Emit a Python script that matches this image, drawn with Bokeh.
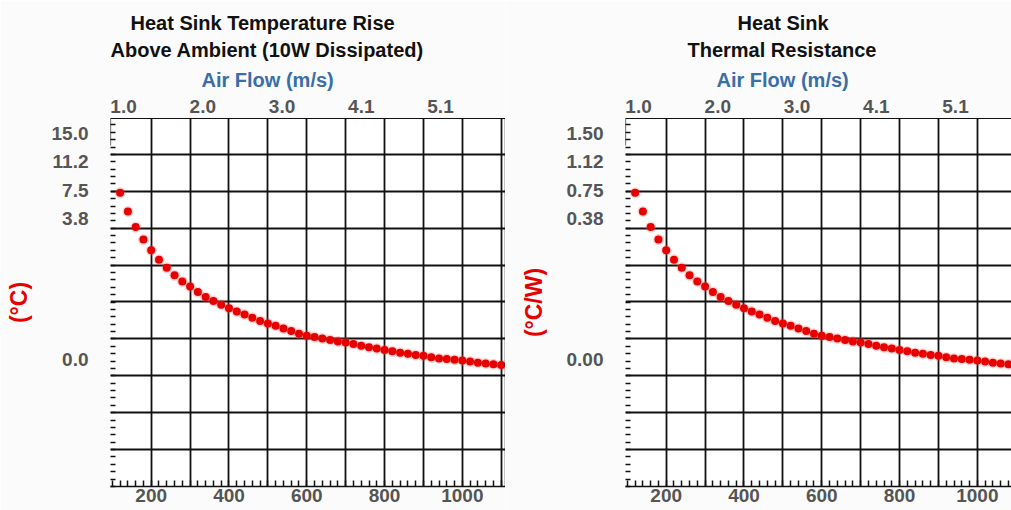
from bokeh.plotting import figure
from bokeh.models import Range1d, LinearAxis, FixedTicker, Span, Grid, Title
from bokeh.layouts import row
from bokeh.embed import file_html
from bokeh.resources import INLINE

# ---------------- data ----------------
air_flow_lfm = [120, 140, 160, 180, 200, 220, 240, 260, 280, 300,
                320, 340, 360, 380, 400, 420, 440, 460, 480, 500,
                520, 540, 560, 580, 600, 620, 640, 660, 680, 700,
                720, 740, 760, 780, 800, 820, 840, 860, 880, 900,
                920, 940, 960, 980, 1000, 1020, 1040, 1060, 1080, 1100]

temp_rise_c = [7.47, 6.63, 5.93, 5.37, 4.89, 4.47, 4.11, 3.77, 3.50, 3.27,
               3.02, 2.80, 2.62, 2.45, 2.30, 2.15, 2.02, 1.87, 1.73, 1.61,
               1.52, 1.39, 1.28, 1.16, 1.07, 1.01, 0.94, 0.88, 0.81, 0.76,
               0.70, 0.62, 0.55, 0.50, 0.43, 0.37, 0.31, 0.26, 0.20, 0.17,
               0.10, 0.05, 0.03, -0.01, -0.04, -0.09, -0.14, -0.17, -0.21, -0.24]

thermal_res_cw = [0.747, 0.663, 0.593, 0.537, 0.489, 0.447, 0.411, 0.377, 0.350, 0.327,
                  0.302, 0.280, 0.262, 0.245, 0.230, 0.215, 0.202, 0.187, 0.173, 0.161,
                  0.152, 0.139, 0.128, 0.116, 0.107, 0.101, 0.094, 0.088, 0.081, 0.076,
                  0.070, 0.062, 0.055, 0.050, 0.043, 0.037, 0.031, 0.026, 0.020, 0.017,
                  0.010, 0.005, 0.003, -0.001, -0.004, -0.009, -0.014, -0.017, -0.021, -0.024]

bottom_tick_values = [200, 400, 600, 800, 1000]
bottom_tick_labels = ["200", "400", "600", "800", "1000"]

top_tick_ms = [1.016, 2.032, 3.048, 4.064, 5.080]
top_tick_labels = ["1.0", "2.0", "3.0", "4.1", "5.1"]

left_tick_pos = [10.13, 8.87, 7.57, 6.32, 0.0]
left_tick_labels = ["15.0", "11.2", "7.5", "3.8", "0.0"]

right_tick_pos = [1.013, 0.887, 0.757, 0.632, 0.0]
right_tick_labels = ["1.50", "1.12", "0.75", "0.38", "0.00"]

x_grid_values = [200, 300, 400, 500, 600, 700, 800, 900, 1000, 1100]
x_minor_values = list(range(100, 1120, 20))

# ---------------- style ----------------
FONT = "Liberation Sans"
TICK_COLOR = "#555555"
RED = "#e60000"
BLUE = "#3a6ea8"
FIG_H = 510
FRAME_H = 368


def make_chart(titles, ylab, ys, y_lo, y_hi, tick_pos, tick_labels,
               width, border_left, x_end, ms_end, right_edge):
    x_start = 95.3
    p = figure(width=width, height=FIG_H,
               x_range=Range1d(x_start, x_end), y_range=Range1d(y_lo, y_hi),
               x_axis_type=None, y_axis_type=None, title_location=None,
               output_backend="svg", toolbar_location=None,
               min_border_left=border_left, min_border_right=0,
               min_border_top=118, min_border_bottom=24)
    p.outline_line_color = None
    p.background_fill_color = "white"
    p.border_fill_color = "#fbfbfb"

    span = y_hi - y_lo
    step = span * 36.9 / FRAME_H
    g0 = y_lo + step * (486 - 449) / 36.9
    y_grid = [g0 + k * step for k in range(9)]
    y_minor = [y_lo + i * step / 5 for i in range(60) if y_lo + i * step / 5 <= y_hi]

    # grids
    p.add_layout(Grid(dimension=0, ticker=FixedTicker(ticks=x_grid_values),
                      grid_line_color="#111111", grid_line_width=1.8))
    p.add_layout(Grid(dimension=1, ticker=FixedTicker(ticks=y_grid),
                      grid_line_color="#111111", grid_line_width=1.8))

    # left axis
    yax = LinearAxis(ticker=FixedTicker(ticks=tick_pos, minor_ticks=y_minor),
                     major_label_overrides={k: v for k, v in zip(tick_pos, tick_labels)},
                     major_tick_in=0, major_tick_out=0,
                     minor_tick_in=5, minor_tick_out=0,
                     minor_tick_line_color="#111111", minor_tick_line_width=1.5,
                     axis_line_color=None,
                     major_label_standoff=22,
                     major_label_text_font=FONT, major_label_text_font_size="19px",
                     major_label_text_font_style="bold", major_label_text_color=TICK_COLOR,
                     axis_label=ylab, axis_label_standoff=17,
                     axis_label_text_font=FONT, axis_label_text_font_size="23px",
                     axis_label_text_font_style="bold", axis_label_text_color=RED)
    p.add_layout(yax, "left")

    # bottom axis
    xax = LinearAxis(ticker=FixedTicker(ticks=bottom_tick_values, minor_ticks=x_minor_values),
                     major_label_overrides={k: v for k, v in zip(bottom_tick_values, bottom_tick_labels)},
                     major_tick_in=0, major_tick_out=0,
                     minor_tick_in=6, minor_tick_out=0,
                     minor_tick_line_color="#111111", minor_tick_line_width=1.5,
                     axis_line_color="#111111", axis_line_width=1.5,
                     major_label_standoff=2,
                     major_label_text_font=FONT, major_label_text_font_size="19px",
                     major_label_text_font_style="bold", major_label_text_color=TICK_COLOR)
    p.add_layout(xax, "below")

    # top axis in m/s
    p.extra_x_ranges = {"ms": Range1d(0.849, ms_end)}
    tax = LinearAxis(x_range_name="ms", ticker=FixedTicker(ticks=top_tick_ms),
                     major_label_overrides={k: v for k, v in zip(top_tick_ms, top_tick_labels)},
                     major_tick_in=0, major_tick_out=0,
                     minor_tick_in=0, minor_tick_out=0,
                     axis_line_color="#111111", axis_line_width=1.2,
                     major_label_standoff=6,
                     major_label_text_font=FONT, major_label_text_font_size="19px",
                     major_label_text_font_style="bold", major_label_text_color=TICK_COLOR)
    p.add_layout(tax, "above")

    # titles, nearest the plot first
    for txt, off, col, sto in titles:
        p.add_layout(Title(text=txt, align="left", offset=off, standoff=sto,
                           text_font=FONT, text_font_size="20px",
                           text_font_style="bold", text_color=col), "above")

    # frame edges
    if right_edge:
        p.add_layout(Span(location=x_end, dimension="height",
                          line_color="#111111", line_width=1.5))
    p.segment(x0=[x_start], x1=[x_start], y0=[y_hi], y1=[y_hi - span * 27 / FRAME_H],
              line_color="#111111", line_width=1.2)

    # data points
    p.scatter(air_flow_lfm, ys, size=11, color="#ff5050", alpha=0.25, line_color=None)
    p.scatter(air_flow_lfm, ys, size=8, color=RED, line_color=None)
    return p


left = make_chart([("Air Flow (m/s)", 91, BLUE, 12),
                   ("Above Ambient (10W Dissipated)", 0, "#111111", 0),
                   ("Heat Sink Temperature Rise", 20, "#111111", 6)],
                  "(°C)", temp_rise_c, -5.68, 10.79, left_tick_pos, left_tick_labels,
                  width=505, border_left=110,
                  x_end=95.3 + 395 / 0.3889, ms_end=0.849 + 395 / 78.0,
                  right_edge=True)
right = make_chart([("Air Flow (m/s)", 91, BLUE, 12),
                    ("Thermal Resistance", 62, "#111111", 0),
                    ("Heat Sink", 112, "#111111", 6)],
                   "(°C/W)", thermal_res_cw, -0.568, 1.079, right_tick_pos, right_tick_labels,
                   width=506, border_left=120,
                   x_end=95.3 + 386 / 0.3889, ms_end=0.849 + 386 / 78.0,
                   right_edge=False)

layout = row(left, right)
open("out.html", "w").write(file_html(layout, INLINE))
